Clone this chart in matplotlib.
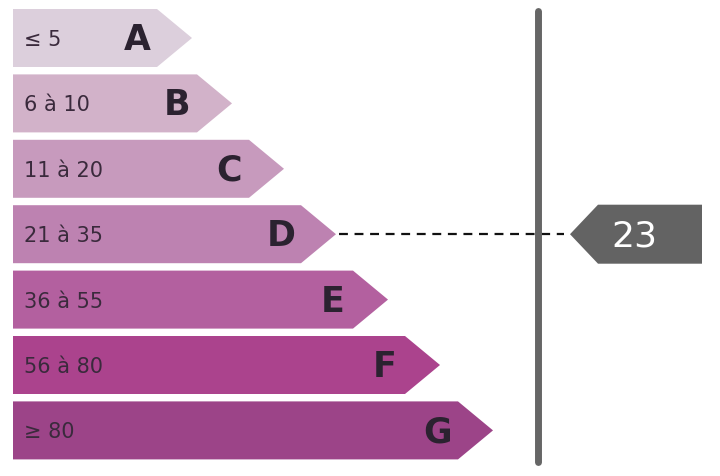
import matplotlib.pyplot as plt
from matplotlib.patches import Polygon

# classes and their ranges
classes = ['A', 'B', 'C', 'D', 'E', 'F', 'G']
ranges = ['≤ 5', '6 à 10', '11 à 20', '21 à 35', '36 à 55', '56 à 80', '≥ 80']
upper = [5, 10, 20, 35, 55, 80, float('inf')]
value = 23

colors = ['#dccfdc', '#d2b2c9', '#c79abd', '#bd82b1', '#b3609f', '#ab438d', '#9c4488']
tips = [192, 232, 284, 336, 388, 440, 493]  # arrow tip x (pixels)

W, H = 720, 477
fig = plt.figure(figsize=(W / 100, H / 100), dpi=100)
ax = fig.add_axes([0, 0, 1, 1])
ax.set_xlim(0, W)
ax.set_ylim(H, 0)
ax.axis('off')

left = 13
top0 = 10
pitch = 65.4
bar_h = 58
head = 35

for i, (cls, rng) in enumerate(zip(classes, ranges)):
    top = top0 + i * pitch
    mid = top + bar_h / 2
    tip = tips[i]
    pts = [(left, top), (tip - head, top), (tip, mid),
           (tip - head, top + bar_h), (left, top + bar_h)]
    ax.add_patch(Polygon(pts, closed=True, facecolor=colors[i], edgecolor='none'))
    ax.text(left + 11, mid + 1, rng, fontsize=15, color='#3a2a3c',
            ha='left', va='center')
    ax.text(tip - 55, mid + 1, cls, fontsize=25, fontweight='bold',
            color='#2b2230', ha='center', va='center')

# which class holds the value
idx = next(i for i, u in enumerate(upper) if value <= u)
ymid = top0 + idx * pitch + bar_h / 2

# vertical divider
line_x = 538
ax.plot([line_x, line_x], [12, 463], color='#666666', linewidth=5,
        solid_capstyle='round', zorder=3)

# dashed pointer
ax.plot([tips[idx] + 3, 564], [ymid, ymid], color='#111111', linewidth=1.6,
        dashes=(4, 3), zorder=2)

# value tag
box_l, box_r, tag_tip = 598, 702, 570
tag_h = 59
tag = [(tag_tip, ymid), (box_l, ymid - tag_h / 2), (box_r, ymid - tag_h / 2),
       (box_r, ymid + tag_h / 2), (box_l, ymid + tag_h / 2)]
ax.add_patch(Polygon(tag, closed=True, facecolor='#636363', edgecolor='none', zorder=4))
ax.text(634, ymid + 1, str(value), fontsize=26, color='white',
        ha='center', va='center', zorder=5)

fig.savefig('out.png', dpi=100, facecolor='white')
